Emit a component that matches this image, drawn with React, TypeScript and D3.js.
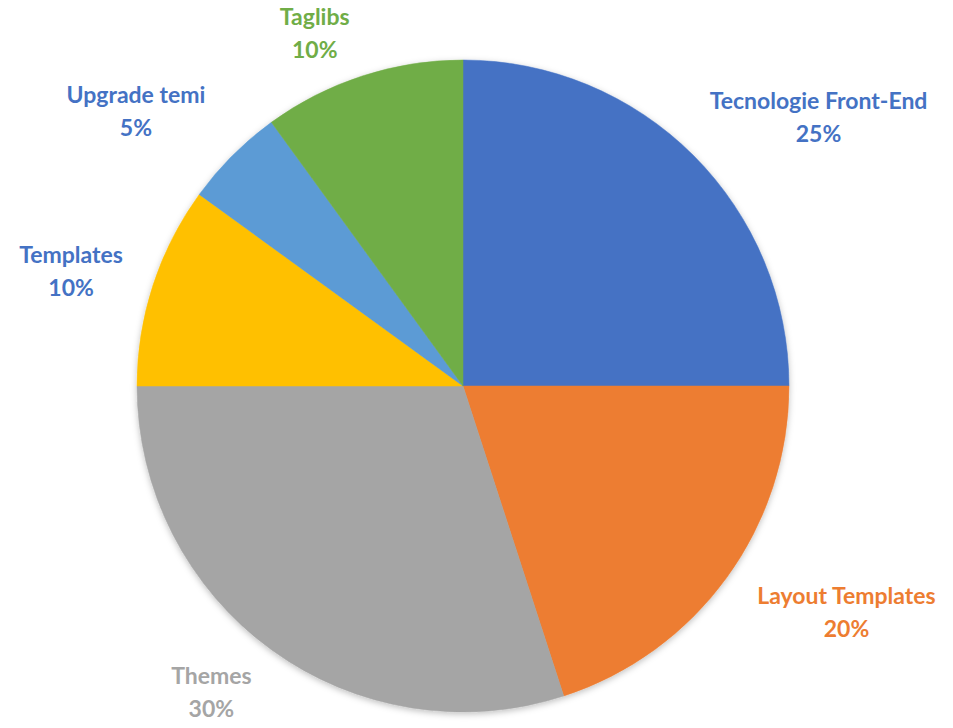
import React from "react";
import * as d3 from "d3";

const categories = ["Tecnologie Front-End", "Layout Templates", "Themes", "Templates", "Upgrade temi", "Taglibs"];
const values = [25, 20, 30, 10, 5, 10];
const sliceColors = ["#4472C4", "#ED7D31", "#A5A5A5", "#FFC000", "#5B9BD5", "#70AD47"];
const labelColors = ["#4472C4", "#ED7D31", "#A5A5A5", "#4472C4", "#4472C4", "#70AD47"];
const labelNudge: [number, number][] = [[2, 11], [14, 1], [-19, -4], [-11, 5], [-13, 5], [-30, 12]];

const W = 953, H = 728;
const cx = 463, cy = 386, R = 326;
const FONT = 23;
const LINE = 33;

export default function App() {
  const total = d3.sum(values);
  const pie = d3.pie<number>().sort(null).value((d) => d);
  const arcs = pie(values);
  const arc = d3.arc<d3.PieArcDatum<number>>().innerRadius(0).outerRadius(R);

  const canvas = typeof document !== "undefined" ? document.createElement("canvas") : null;
  const ctx = canvas ? canvas.getContext("2d") : null;
  if (ctx) ctx.font = `bold ${FONT}px Lato`;
  const measure = (s: string) => (ctx ? ctx.measureText(s).width : s.length * FONT * 0.5);

  const labels = arcs.map((a, i) => {
    const mid = (a.startAngle + a.endAngle) / 2;
    const dx = Math.sin(mid), dy = -Math.cos(mid);
    const gap = R + 20;
    const px = cx + dx * gap, py = cy + dy * gap;
    const m = Math.max(Math.abs(dx), Math.abs(dy));
    const pct = `${Math.round((values[i] / total) * 100)}%`;
    const w = Math.max(measure(categories[i]), measure(pct));
    const h = LINE * 2;
    const lx = px + (dx / m) * (w / 2) + labelNudge[i][0];
    const ly = py + (dy / m) * (h / 2) + labelNudge[i][1];
    return { x: lx, y: ly, name: categories[i], pct, color: labelColors[i] };
  });

  return (
    <svg width={W} height={H} style={{ position: "absolute", left: 0, top: 0, background: "#fff" }}>
      <defs>
        <filter id="shadow" x="-10%" y="-10%" width="120%" height="120%">
          <feDropShadow dx="0" dy="2" stdDeviation="3" floodColor="#000" floodOpacity="0.25" />
        </filter>
      </defs>
      <g transform={`translate(${cx},${cy})`} filter="url(#shadow)">
        {arcs.map((a, i) => (
          <path key={i} d={arc(a) || ""} fill={sliceColors[i]} stroke={sliceColors[i]} strokeWidth={0.5} />
        ))}
      </g>
      {labels.map((l, i) => (
        <text key={i} textAnchor="middle" fontFamily="Lato, 'Open Sans', sans-serif" fontWeight="bold" fontSize={FONT} fill={l.color}>
          <tspan x={l.x} y={l.y - LINE / 2 + 6}>{l.name}</tspan>
          <tspan x={l.x} y={l.y + LINE / 2 + 6}>{l.pct}</tspan>
        </text>
      ))}
    </svg>
  );
}
